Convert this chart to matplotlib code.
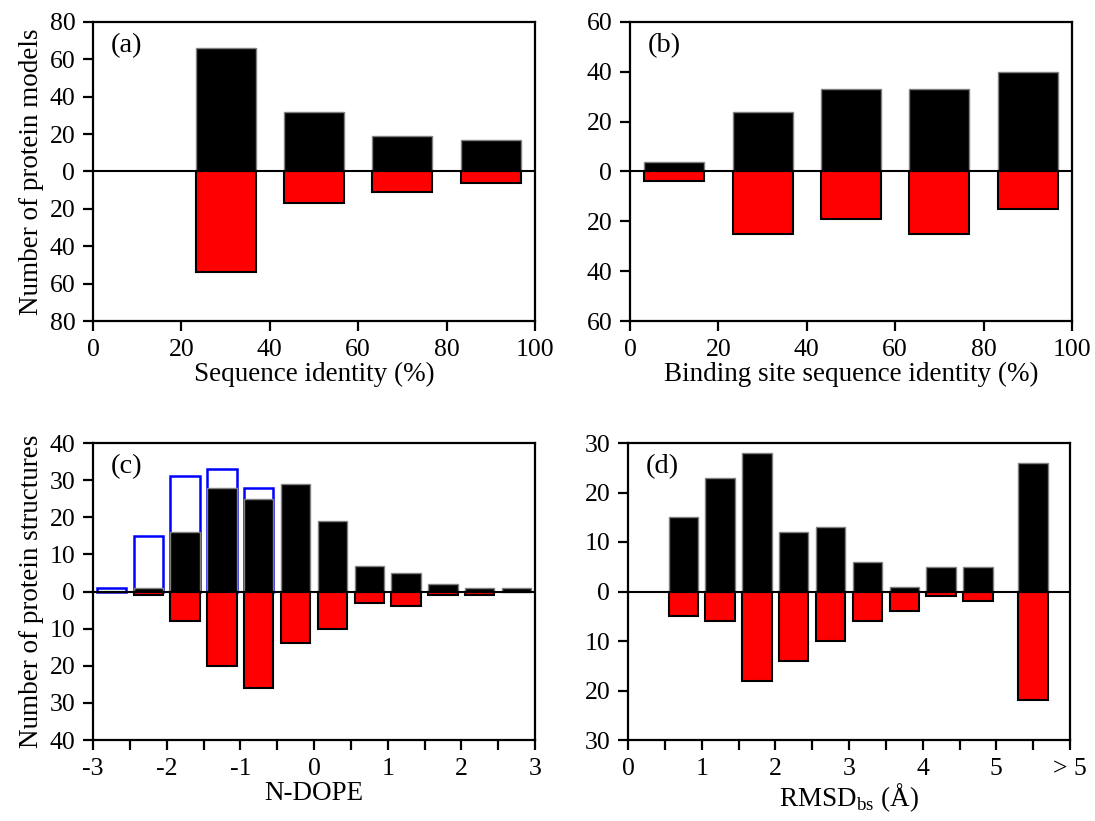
import numpy as np
import matplotlib
matplotlib.use("Agg")
import matplotlib.pyplot as plt
from matplotlib.ticker import FuncFormatter

# panel (a): sequence identity
seq_x = [30, 50, 70, 90]
seq_good = [66, 32, 19, 17]
seq_bad = [54, 17, 11, 6]

# panel (b): binding site sequence identity
bs_x = [10, 30, 50, 70, 90]
bs_good = [4, 24, 33, 33, 40]
bs_bad = [4, 25, 19, 25, 15]

# panel (c): N-DOPE
dope_x = [-2.75, -2.25, -1.75, -1.25, -0.75, -0.25, 0.25, 0.75, 1.25, 1.75, 2.25, 2.75]
dope_good = [0, 1, 16, 28, 25, 29, 19, 7, 5, 2, 1, 1]
dope_bad = [0, 1, 8, 20, 26, 14, 10, 3, 4, 1, 1, 0]
dope_blue_x = [-2.75, -2.25, -1.75, -1.25, -0.75]
dope_blue = [1, 15, 31, 33, 28]

# panel (d): RMSD of binding site
rmsd_x = [0.75, 1.25, 1.75, 2.25, 2.75, 3.25, 3.75, 4.25, 4.75, 5.5]
rmsd_good = [15, 23, 28, 12, 13, 6, 1, 5, 5, 26]
rmsd_bad = [5, 6, 18, 14, 10, 6, 4, 1, 2, 22]

plt.rcParams['font.family'] = ['Liberation Serif', 'DejaVu Serif']
plt.rcParams['mathtext.fontset'] = 'custom'
plt.rcParams['mathtext.rm'] = 'Liberation Serif'
plt.rcParams['font.size'] = 18.5

fig = plt.figure(figsize=(10.95, 8.21), dpi=100)
W, H = 1095.0, 821.0

def make_ax(x0, x1, y0, y1):
    return fig.add_axes([x0 / W, 1 - y1 / H, (x1 - x0) / W, (y1 - y0) / H])

ax_a = make_ax(93, 535, 22, 321)
ax_b = make_ax(630, 1072, 22, 321)
ax_c = make_ax(93, 535, 443, 740)
ax_d = make_ax(628, 1070, 443, 740)

absfmt = FuncFormatter(lambda v, p: "%d" % abs(round(v)))

def style(ax, ylim, ystep, label):
    for s in ax.spines.values():
        s.set_linewidth(1.6)
    ax.tick_params(direction='out', length=7.2, width=1.6, labelsize=18.5, pad=5.5)
    ax.set_ylim(-ylim, ylim)
    ax.set_yticks(np.arange(-ylim, ylim + 1, ystep))
    ax.yaxis.set_major_formatter(absfmt)
    ax.axhline(0, color='black', lw=1.5, zorder=5)
    ax.text(0.04, 0.92, label, transform=ax.transAxes, fontsize=20.5, va='center', ha='left')

def bars(ax, x, up, down, w):
    ax.bar(x, up, width=w, color='black', edgecolor='#808080', lw=1.0, zorder=3)
    ax.bar(x, [-v for v in down], width=w, color='red', edgecolor='black', lw=1.5, zorder=3)

# (a)
bars(ax_a, seq_x, seq_good, seq_bad, 13.6)
style(ax_a, 80, 20, "(a)")
ax_a.set_xlim(0, 100)
ax_a.set_xticks(np.arange(0, 101, 20))
ax_a.set_xlabel("Sequence identity (%)", fontsize=19.5, labelpad=1)
ax_a.set_ylabel("Number of protein models", fontsize=19.5, labelpad=4)

# (b)
bars(ax_b, bs_x, bs_good, bs_bad, 13.6)
style(ax_b, 60, 20, "(b)")
ax_b.set_xlim(0, 100)
ax_b.set_xticks(np.arange(0, 101, 20))
ax_b.set_xlabel("Binding site sequence identity (%)", fontsize=19.5, labelpad=1)

# (c)
ax_c.bar(dope_blue_x, dope_blue, width=0.4, facecolor='none', edgecolor='blue', lw=1.8, zorder=2)
bars(ax_c, dope_x, dope_good, dope_bad, 0.4)
style(ax_c, 40, 10, "(c)")
ax_c.set_xlim(-3, 3)
ticks_c = np.arange(-3, 3.01, 0.5)
ax_c.set_xticks(ticks_c)
ax_c.set_xticklabels(["%d" % t if t == int(t) else "" for t in ticks_c])
ax_c.set_xlabel("N-DOPE", fontsize=19.5, labelpad=1)
ax_c.set_ylabel("Number of protein structures", fontsize=19.5, labelpad=4)

# (d)
bars(ax_d, rmsd_x, rmsd_good, rmsd_bad, 0.4)
style(ax_d, 30, 10, "(d)")
ax_d.set_xlim(0, 6)
ticks_d = np.arange(0, 6.01, 0.5)
ax_d.set_xticks(ticks_d)
labels_d = []
for t in ticks_d:
    if t == 6:
        labels_d.append("> 5")
    elif t == int(t):
        labels_d.append("%d" % t)
    else:
        labels_d.append("")
ax_d.set_xticklabels(labels_d)
ax_d.set_xlabel("RMSD$_\\mathrm{bs}$ (Å)", fontsize=19.5, labelpad=1)

fig.savefig("out.png", dpi=100)
